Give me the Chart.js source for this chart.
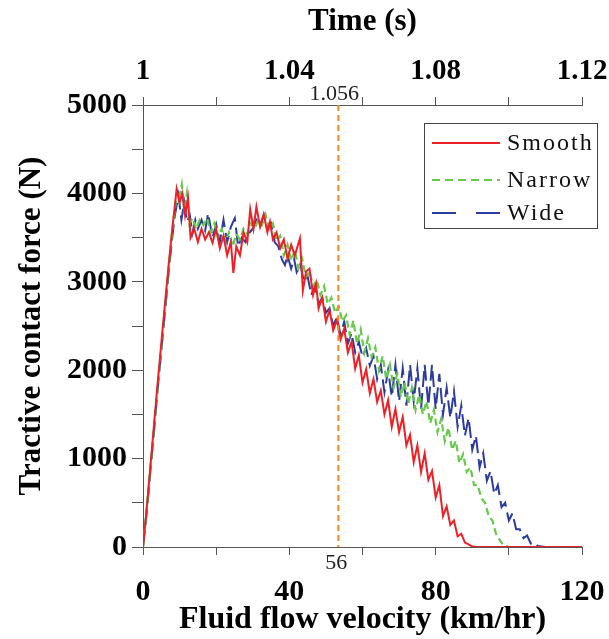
<!DOCTYPE html>
<html>
<head>
<meta charset="utf-8">
<script src="https://cdn.jsdelivr.net/npm/chart.js@4.4.1/dist/chart.umd.min.js"></script>
<style>
  html, body { margin: 0; padding: 0; background: #ffffff; }
  #wrap { width: 609px; height: 639px; }
</style>
</head>
<body>
<div id="wrap"><canvas id="c" width="609" height="639"></canvas></div>
<script>
// ---- data ----
const seriesNames = ['Smooth', 'Narrow', 'Wide'];
const smoothPts = [[0,0],[1,430],[2,900],[3,1380],[4,1850],[5,2300],[6,2750],[7,3180],[8,3600],[9.2,4050],[10,3900],[10.7,4000],[11.5,3750],[12.3,3950],[13,3500],[14,3600],[15,3450],[16,3600],[17,3480],[18,3560],[19,3440],[20,3600],[21,3380],[22,3520],[23,3300],[24,3450],[24.7,3100],[25.5,3400],[26.5,3300],[27.5,3560],[28.5,3450],[29.3,3820],[30.2,3600],[31,3850],[32,3620],[33,3760],[34,3560],[34.7,3680],[35.5,3480],[36.5,3560],[37.5,3380],[38.5,3480],[39.5,3260],[40.5,3420],[41.5,3300],[42.9,3490],[43.7,2900],[44.6,3120],[45.5,3150],[46.5,2850],[47.3,2980],[48,2700],[49,2820],[50,2550],[51,2680],[52,2450],[53,2570],[54,2350],[55,2470],[56,2200],[57,2320],[58,2020],[59,2170],[60,1860],[61,2010],[62,1740],[63,1900],[64,1640],[65,1770],[66,1500],[67,1660],[68,1360],[69,1560],[70,1300],[71,1470],[72,1150],[73,1270],[74,960],[75,1150],[76,850],[77,1060],[78,760],[79,860],[80,560],[81,700],[82,350],[83,460],[84,250],[85,300],[86,120],[87,150],[88,50],[89,30],[90,5],[91,0],[120,0]];
const narrowPts = [[0,0],[1,440],[2,900],[3,1360],[4,1820],[5,2280],[6,2720],[7,3160],[8,3580],[9,3920],[10,3980],[10.6,4100],[11.3,3800],[12,4000],[12.7,3650],[13.5,3720],[14.5,3600],[15.5,3700],[16.5,3640],[17.5,3720],[18.5,3560],[19.5,3660],[20.5,3500],[21.5,3600],[22.5,3450],[23.5,3560],[24.5,3400],[25.5,3540],[26.5,3480],[27.5,3600],[28.5,3540],[29.5,3660],[30.5,3600],[31.5,3700],[32.5,3640],[33.5,3760],[34.5,3600],[35.5,3660],[36.5,3460],[37.5,3520],[38.5,3300],[39.5,3420],[40.5,3240],[41.5,3360],[42.5,3150],[43.5,3260],[44.5,3050],[45.5,3120],[46.5,2950],[47.5,3020],[48.5,2850],[49.5,2950],[50.5,2750],[51.5,2820],[52.5,2650],[53.5,2720],[54.5,2550],[55.5,2620],[56.5,2400],[57.5,2560],[58.5,2300],[59.5,2460],[60.5,2200],[61.5,2360],[62.5,2150],[63.5,2260],[64.5,2000],[65.5,2160],[66.5,1900],[67.5,2060],[68.5,1800],[69.5,1960],[70.5,1700],[71.5,1860],[72.5,1620],[73.5,1800],[74.5,1550],[75.5,1720],[76.5,1500],[77.5,1650],[78.5,1400],[79.5,1550],[80.5,1300],[81.5,1450],[82.5,1200],[83.5,1350],[84.5,1100],[85.5,1200],[86.5,950],[87.5,1050],[88.5,850],[89.5,900],[90.5,700],[91.5,700],[92.5,550],[93.5,500],[94.5,350],[95.5,300],[96.5,150],[97.5,80],[98.5,20],[100,0],[120,0]];
const widePts = [[0,0],[1,380],[2,850],[3,1300],[4,1780],[5,2220],[6,2650],[7,3100],[8,3500],[8.7,3750],[9.7,3980],[10.5,3700],[11.3,3900],[12,3680],[12.8,3750],[13.5,3550],[14.3,3700],[15,3600],[16,3700],[17,3580],[17.8,3775],[19,3500],[20,3650],[21,3450],[22,3700],[23,3450],[24,3620],[25.1,3720],[26,3400],[27,3500],[28,3450],[29,3550],[30,3600],[31,3700],[32,3640],[33,3760],[34,3600],[35,3660],[36,3450],[37,3400],[38,3250],[38.8,3190],[39.5,3300],[40.5,3150],[41.3,3260],[42,3110],[43,3200],[44,3000],[45,3060],[46,2850],[47,2950],[48,2750],[49,2820],[50,2650],[51,2700],[52,2500],[53,2600],[54,2400],[55,2550],[56,2300],[57,2420],[58,2200],[59,2320],[60,2150],[61,2250],[62,2050],[63,2160],[64,1900],[65,2060],[66,1750],[67,2000],[68,1700],[69,2060],[70,1650],[71,2020],[72,1600],[73,2060],[74,1650],[75,2020],[76,1560],[77,2060],[78,1600],[79,2060],[80,1560],[81,1960],[82,1500],[83,1800],[84,1460],[85,1760],[86,1360],[87,1600],[88,1260],[89,1460],[90,1100],[91,1260],[92,900],[93,1060],[94,750],[95,860],[96,600],[97,700],[98,450],[99,500],[100,300],[101,380],[102,200],[103,200],[104,100],[105,130],[106,40],[107,50],[108,10],[110,0],[120,0]];
const velocityRange = [0, 120];
const timeRange = [1, 1.12];
const forceRange = [0, 5000];
const markerVelocity = [53.4];          // where the dashed marker sits on the velocity axis
const markerLabels = ['56', '1.056'];   // bottom label, top label

// ---- chart ----
const SERIF = "'Liberation Serif', 'Times New Roman', serif";
const AXIS = '#555555';
const toXY = pts => pts.map(p => ({ x: p[0], y: p[1] }));

const styles = [
  { color: '#ee2026', dash: [], legendDash: [], width: 2 },
  { color: '#66c94a', dash: [7, 4], legendDash: [8, 5], width: 2.2 },
  { color: '#2b3c9e', dash: [16, 6], legendDash: [24, 20], width: 2 }
];
const allPts = [smoothPts, narrowPts, widePts];

const overlay = {
  id: 'overlay',
  afterDatasetsDraw(chart) {
    const ctx = chart.ctx, ca = chart.chartArea;
    const xs = chart.scales.x;
    const px = xs.getPixelForValue(markerVelocity[0]);
    ctx.save();
    ctx.strokeStyle = '#f4892a';
    ctx.lineWidth = 2;
    ctx.setLineDash([6, 4]);
    ctx.beginPath();
    ctx.moveTo(px, ca.top);
    ctx.lineTo(px, ca.bottom);
    ctx.stroke();
    ctx.setLineDash([]);
    ctx.fillStyle = '#222';
    ctx.font = '22px ' + SERIF;
    ctx.textAlign = 'center';
    ctx.textBaseline = 'top';
    ctx.fillText(markerLabels[0], px - 2, ca.bottom + 5);
    ctx.textBaseline = 'alphabetic';
    ctx.fillText(markerLabels[1], px - 4, ca.top - 5);
    ctx.restore();
  },
  afterDraw(chart) {
    const ctx = chart.ctx, ca = chart.chartArea;
    const bx = ca.right - 158, by = ca.top + 18, bw = 173, bh = 105;
    ctx.save();
    ctx.fillStyle = '#ffffff';
    ctx.fillRect(bx, by, bw, bh);
    ctx.strokeStyle = '#444';
    ctx.lineWidth = 1;
    ctx.strokeRect(bx + 0.5, by + 0.5, bw, bh);
    const rows = [20, 57, 90];
    chart.data.datasets.forEach((ds, i) => {
      const y = by + rows[i];
      ctx.strokeStyle = ds.borderColor;
      ctx.lineWidth = 2;
      ctx.setLineDash(styles[i].legendDash);
      ctx.beginPath();
      ctx.moveTo(bx + 8, y);
      ctx.lineTo(bx + 76, y);
      ctx.stroke();
      ctx.setLineDash([]);
      ctx.fillStyle = '#111';
      ctx.font = '24px ' + SERIF;
      ctx.letterSpacing = '2px';
      ctx.textAlign = 'left';
      ctx.textBaseline = 'middle';
      ctx.fillText(ds.label, bx + 83, y + 1);
    });
    ctx.restore();
  }
};

const noSidePad = s => { s.paddingLeft = 0; s.paddingRight = 0; };

new Chart(document.getElementById('c'), {
  type: 'line',
  data: {
    datasets: seriesNames.map((name, i) => ({
      label: name,
      data: toXY(allPts[i]),
      borderColor: styles[i].color,
      borderWidth: styles[i].width,
      borderDash: styles[i].dash,
      pointRadius: 0,
      tension: 0,
      fill: false,
      xAxisID: 'x',
      yAxisID: 'y'
    }))
  },
  options: {
    responsive: false,
    animation: false,
    layout: { padding: { left: 0, right: 27, top: 0, bottom: 0 } },
    plugins: { legend: { display: false }, tooltip: { enabled: false } },
    scales: {
      x: {
        type: 'linear', position: 'bottom',
        min: velocityRange[0], max: velocityRange[1],
        afterFit: s => { s.height = 92; noSidePad(s); },
        border: { display: true, color: AXIS, width: 1 },
        grid: { drawOnChartArea: false, drawTicks: true, tickLength: 8, color: AXIS },
        ticks: {
          stepSize: 20, autoSkip: false, maxRotation: 0, padding: 19, color: '#000',
          font: { family: SERIF, size: 30, weight: 'bold' },
          callback: v => (v % 40 === 0 ? String(v) : '')
        },
        title: {
          display: true, text: 'Fluid flow velocity (km/hr)', color: '#000',
          font: { family: SERIF, size: 32, weight: 'bold' }, padding: { top: 0, bottom: 0 }
        }
      },
      x2: {
        type: 'linear', position: 'top', axis: 'x',
        min: timeRange[0], max: timeRange[1],
        afterFit: s => { s.height = 105; noSidePad(s); },
        border: { display: true, color: AXIS, width: 1 },
        grid: { drawOnChartArea: false, drawTicks: true, tickLength: 8, color: AXIS },
        ticks: {
          stepSize: 0.02, autoSkip: false, maxRotation: 0, padding: 8, color: '#000',
          font: { family: SERIF, size: 29, weight: 'bold' },
          callback: v => (Math.round((v - 1) * 100) % 4 === 0 ? String(Number(v.toFixed(2))) : '')
        },
        title: {
          display: true, text: 'Time (s)', color: '#000',
          font: { family: SERIF, size: 31, weight: 'bold' }, padding: { top: 3, bottom: 0 }
        }
      },
      y: {
        type: 'linear', position: 'left',
        min: forceRange[0], max: forceRange[1],
        afterFit: s => { s.width = 143; },
        border: { display: true, color: AXIS, width: 1 },
        grid: { drawOnChartArea: false, drawTicks: true, tickLength: 11, color: AXIS },
        ticks: {
          stepSize: 500, autoSkip: false, padding: 5, color: '#000',
          font: { family: SERIF, size: 30, weight: 'bold' },
          callback: v => (v % 1000 === 0 ? String(v) : '')
        },
        title: {
          display: true, text: 'Tractive contact force (N)', color: '#000',
          font: { family: SERIF, size: 31, weight: 'bold' }, padding: { top: 13, bottom: 0 }
        }
      }
    }
  },
  plugins: [overlay]
});
</script>
</body>
</html>
